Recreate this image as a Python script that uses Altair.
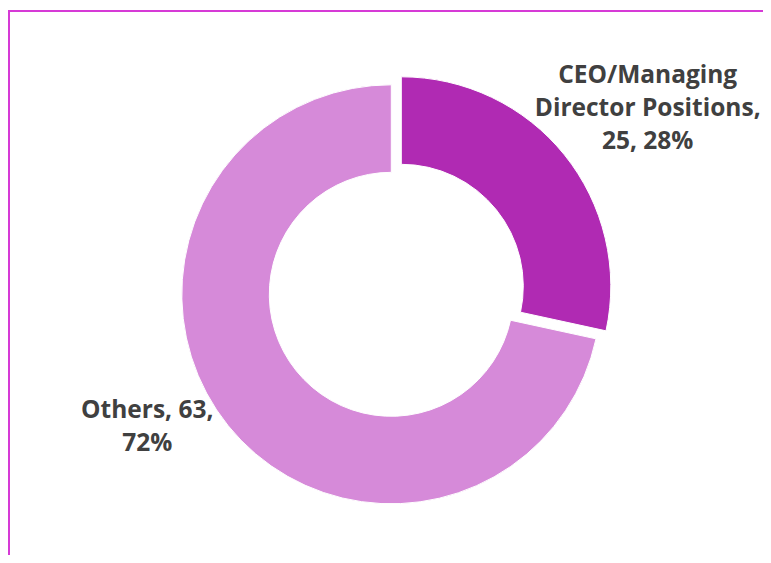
import altair as alt
import pandas as pd

categories = ["CEO/Managing Director Positions", "Others"]
values = [25, 63]
colors = ["#b02ab3", "#d68ad9"]

total = sum(values)
pcts = [round(v / total * 100) for v in values]
labels = [
    "\n".join(["CEO/Managing", "Director Positions,", f"{values[0]}, {pcts[0]}%"]),
    "\n".join([f"Others, {values[1]},", f"{pcts[1]}%"]),
]

df = pd.DataFrame({
    "category": categories,
    "value": values,
    "order": list(range(len(categories))),
    "label": labels,
})

W, H = 755, 547
CX, CY = 383.3, 286.3

theta_scale = alt.Scale(domain=[0, total], range=[0, 6.283185307179586])
color_scale = alt.Scale(domain=categories, range=colors)

base = (
    alt.Chart(df)
    .transform_window(cum="sum(value)", sort=[alt.SortField("order")])
    .transform_calculate(start="datum.cum - datum.value", mid="datum.cum - datum.value/2")
)

arc_enc = dict(
    x=alt.value(CX),
    y=alt.value(CY),
    theta=alt.Theta("start:Q", scale=theta_scale),
    theta2=alt.Theta2("cum:Q"),
    color=alt.Color("category:N", scale=color_scale, legend=None),
)

others = base.transform_filter("datum.category == 'Others'").mark_arc(
    innerRadius=122, outerRadius=209.5, stroke="white", strokeWidth=1
).encode(**arc_enc)

ceo = base.transform_filter("datum.category != 'Others'").mark_arc(
    innerRadius=122, outerRadius=209.5, stroke="white", strokeWidth=1,
    xOffset=10, yOffset=-8
).encode(**arc_enc)

text_style = dict(
    font="Open Sans", fontSize=24.5, fontWeight="bold", color="#404040",
    lineBreak="\n", lineHeight=33, baseline="middle", align="center",
)

text_ceo = base.transform_filter("datum.category != 'Others'").mark_text(
    radius=337, dx=-6, dy=-7, **text_style
).encode(
    x=alt.value(CX), y=alt.value(CY),
    theta=alt.Theta("mid:Q", scale=theta_scale), text="label:N",
)

text_oth = base.transform_filter("datum.category == 'Others'").mark_text(
    radius=271, dx=-33, dy=-53, **text_style
).encode(
    x=alt.value(CX), y=alt.value(CY),
    theta=alt.Theta("mid:Q", scale=theta_scale), text="label:N",
)

frame = alt.Chart(pd.DataFrame({"f": [0]})).mark_rect(
    fill="white", fillOpacity=0, stroke="#d63ad6", strokeWidth=2
).encode(
    x=alt.value(1), x2=alt.value(W + 30),
    y=alt.value(3), y2=alt.value(H + 30),
)

chart = (
    alt.layer(frame, others, ceo, text_ceo, text_oth)
    .properties(width=W, height=H, padding=0, autosize=alt.AutoSizeParams(type="none"))
    .configure_view(stroke=None)
)

chart.save("out.html", embed_options={"renderer": "svg", "actions": False})
